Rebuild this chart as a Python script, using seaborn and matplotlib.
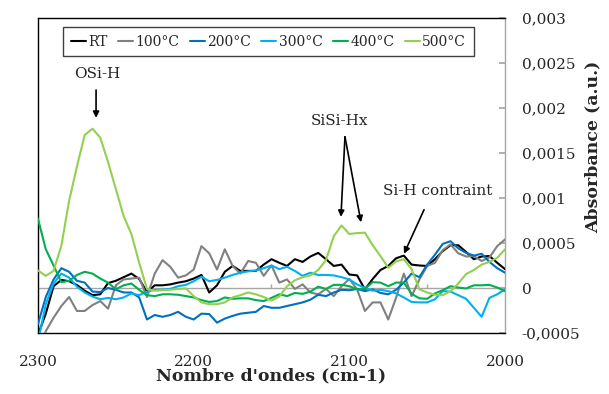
import numpy as np
import pandas as pd
import matplotlib
matplotlib.use("Agg")
import matplotlib.pyplot as plt
import seaborn as sns

# wavenumber grid (cm-1), read every 5 cm-1 from 2300 down to 2000
wavenumbers = np.arange(2300, 1995, -5)

# absorbance values, in units of 1e-4
rt = [-5.2, -2.85, 0.2, 0.9, 0.75, 0.33, -0.3, -0.8, -0.7, 0.55,
      0.8, 1.2, 1.6, 1.0, -0.45, 0.3, 0.3, 0.4, 0.6, 0.75,
      1.05, 1.45, -0.5, 0.3, 1.8, 2.45, 1.9, 1.9, 1.9, 2.6,
      3.2, 2.8, 2.45, 3.2, 2.9, 3.5, 3.9, 3.2, 2.45, 2.6,
      1.5, 1.4, -0.15, 1.0, 2.0, 2.45, 3.3, 3.6, 2.6, 2.5,
      2.45, 3.2, 4.1, 4.75, 4.75, 4.0, 3.2, 3.5, 3.55, 2.8, 2.1]
t100 = [-7.0, -4.8, -3.3, -2.0, -1.0, -2.55, -2.55, -1.9, -1.45, -2.3,
        0.3, 0.95, 1.05, 1.15, -1.0, 1.6, 3.1, 2.35, 1.15, 1.4,
        2.05, 4.65, 3.85, 2.05, 4.3, 2.45, 1.6, 3.0, 2.8, 1.35,
        2.5, 0.6, 0.95, -0.1, 0.4, -0.5, -0.7, -0.1, -0.9, 0.2,
        1.0, -0.15, -2.55, -1.6, -1.6, -3.5, -1.1, 1.6, -0.9, 0.95,
        2.45, 2.8, 4.2, 4.85, 3.85, 3.5, 3.55, 3.0, 3.4, 4.65, 5.4]
t200 = [-4.0, -1.0, 0.95, 2.2, 1.8, 0.8, 0.6, -0.4, -0.45, 0.0,
        -0.2, -0.5, -0.5, -1.05, -3.5, -3.0, -3.2, -3.0, -2.65, -3.2,
        -3.5, -2.85, -2.9, -3.85, -3.4, -3.1, -2.85, -2.75, -2.65, -2.0,
        -2.2, -2.2, -2.0, -1.8, -1.6, -1.3, -0.75, -0.9, -0.5, -0.2,
        -0.25, -0.1, -0.35, -0.15, -0.55, -0.7, -0.2, 0.6, 1.6, 1.2,
        2.6, 3.7, 4.9, 5.2, 4.4, 3.9, 3.6, 3.8, 2.9, 2.2, 1.7]
t300 = [-6.0, -1.8, 0.5, 1.6, 1.15, 0.15, -0.5, -0.95, -1.25, -1.1,
        -1.25, -1.05, -0.6, -0.8, -0.4, -0.2, -0.2, -0.1, 0.2, 0.35,
        0.75, 1.25, 0.75, 0.9, 1.15, 1.45, 1.7, 1.85, 1.95, 2.2,
        2.5, 2.1, 2.35, 1.9, 1.35, 1.7, 1.45, 1.45, 1.4, 1.2,
        0.95, 0.4, 0.0, -0.3, -0.2, -0.35, -0.6, -1.05, -1.55, -1.6,
        -1.6, -1.25, -0.35, -0.4, -0.8, -1.2, -2.2, -3.2, -1.1, -0.7, -0.15]
t400 = [7.7, 4.3, 2.5, 0.65, 0.8, 1.45, 1.8, 1.6, 1.05, 0.6,
        -0.15, 0.3, 0.5, -0.2, -0.8, -0.9, -0.7, -0.7, -0.75, -0.9,
        -1.05, -1.35, -1.55, -1.45, -1.05, -1.2, -1.15, -1.15, -1.35, -1.45,
        -1.1, -0.7, -0.9, -0.55, -0.65, -0.4, 0.15, -0.1, 0.35, 0.35,
        0.2, -0.15, -0.1, 0.65, 0.6, 0.2, 0.6, 0.6, -0.65, -1.15,
        -1.2, -0.6, -0.25, 0.2, 0.05, -0.05, 0.3, 0.3, 0.35, 0.05, -0.35]
t500 = [1.95, 1.35, 1.9, 4.7, 9.7, 13.5, 17.0, 17.7, 16.7, 14.0,
        11.0, 8.0, 6.0, 2.8, -0.1, -0.3, -0.25, -0.2, -0.1, -0.05,
        -0.9, -1.6, -1.8, -1.8, -1.6, -1.05, -0.8, -0.5, -0.7, -1.0,
        -1.4, -0.95, 0.2, 0.85, 1.2, 1.4, 2.0, 3.1, 5.75, 6.95,
        6.0, 6.1, 6.15, 4.75, 3.55, 2.25, 2.95, 3.2, 2.1, -0.15,
        -0.5, -0.75, -0.8, -0.35, 0.5, 1.55, 2.0, 2.6, 2.9, 3.35, 4.3]

series_names = ["RT", "100°C", "200°C", "300°C", "400°C", "500°C"]
series_values = [rt, t100, t200, t300, t400, t500]
series_colors = ["#000000", "#808080", "#0070C0", "#00B0F0", "#00B050", "#92D050"]

x_ticks = [2300, 2200, 2100, 2000]
x_minor_marks = [2250, 2150, 2050]
y_ticks = [-0.0005, 0, 0.0005, 0.001, 0.0015, 0.002, 0.0025, 0.003]
y_tick_labels = ["-0,0005", "0", "0,0005", "0,001", "0,0015", "0,002", "0,0025", "0,003"]

# long table for seaborn
frames = []
for name, vals in zip(series_names, series_values):
    frames.append(pd.DataFrame({"wavenumber": wavenumbers,
                                "absorbance": np.array(vals) * 1e-4,
                                "serie": name}))
df = pd.concat(frames, ignore_index=True)

sns.set_theme(style="white")
plt.rcParams["font.family"] = ["DejaVu Serif"]

fig = plt.figure(figsize=(6.09, 3.94), dpi=100)
ax = fig.add_axes([38 / 609, 1 - 333 / 394, 467 / 609, 315 / 394])

grey = "#a6a6a6"
ax.axhline(0, color=grey, lw=1.0, zorder=1)
ax.vlines(x_minor_marks, 0, 0.00005, color=grey, lw=1.0, zorder=1)

sns.lineplot(data=df, x="wavenumber", y="absorbance", hue="serie",
             palette=dict(zip(series_names, series_colors)),
             hue_order=series_names, estimator=None, linewidth=1.5,
             solid_joinstyle="round", ax=ax, zorder=3)

ax.set_xlim(2300, 2000)
ax.set_ylim(-0.0005, 0.003)
ax.set_xticks(x_ticks)
ax.set_xticklabels([str(t) for t in x_ticks], fontsize=11)
ax.set_yticks(y_ticks)
ax.set_yticklabels(y_tick_labels, fontsize=11)
ax.yaxis.tick_right()
ax.tick_params(axis="y", direction="in", length=4, color=grey, pad=12, right=True, left=False)
ax.tick_params(axis="x", length=0, pad=16)

for side in ["left", "top", "bottom"]:
    ax.spines[side].set_color("black")
    ax.spines[side].set_linewidth(1.0)
ax.spines["right"].set_color(grey)
ax.spines["right"].set_linewidth(1.0)

ax.set_xlabel("Nombre d'ondes (cm-1)", fontsize=12.5, fontweight="bold")
ax.xaxis.set_label_coords(0.5, -0.11)
ax.xaxis.label.set_va("top")
ax.yaxis.set_label_position("right")
ax.set_ylabel("Absorbance (a.u.)", fontsize=12.5, fontweight="bold")
ax.yaxis.set_label_coords(1.17, 0.59)

handles, labels = ax.get_legend_handles_labels()
leg = ax.legend(handles, labels, ncol=6, loc="upper left",
                bbox_to_anchor=(0.0535, 0.971), borderaxespad=0,
                fontsize=10, handlelength=1.1, handletextpad=0.15,
                columnspacing=0.75, frameon=True, fancybox=False,
                edgecolor="#404040", framealpha=1, borderpad=0.55)
leg.get_frame().set_linewidth(1.0)

arrow = dict(arrowstyle="-|>", color="black", lw=1.2, mutation_scale=9,
             shrinkA=0, shrinkB=0)
ax.text(2262, 0.00238, "OSi-H", fontsize=11, ha="center", va="center")
ax.annotate("", xy=(2262.7, 0.00189), xytext=(2262.7, 0.0022), arrowprops=arrow)

ax.text(2106.6, 0.00186, "SiSi-Hx", fontsize=11, ha="center", va="center")
ax.annotate("", xy=(2105.4, 0.00079), xytext=(2102.8, 0.00168), arrowprops=arrow)
ax.annotate("", xy=(2092.5, 0.00073), xytext=(2102.8, 0.00168), arrowprops=arrow)

ax.text(2043, 0.00108, "Si-H contraint", fontsize=11, ha="center", va="center")
ax.annotate("", xy=(2064.9, 0.00038), xytext=(2052, 0.00087), arrowprops=arrow)

fig.savefig("out.png", dpi=100, facecolor="white")
